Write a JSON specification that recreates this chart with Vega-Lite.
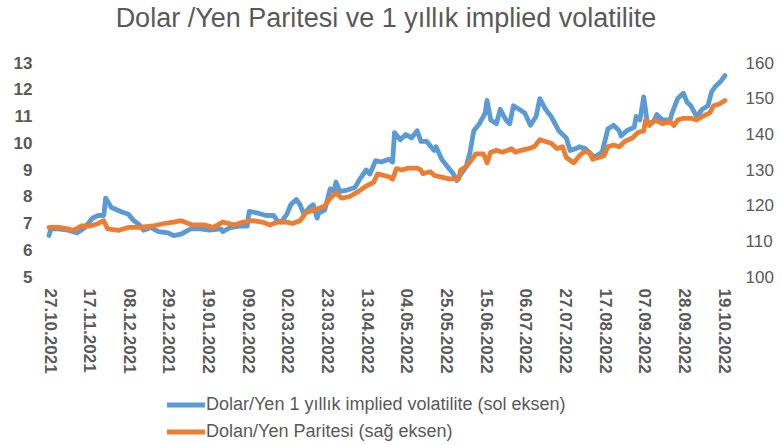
{
  "$schema": "https://vega.github.io/schema/vega-lite/v6.json",
  "width": 674,
  "height": 214,
  "autosize": {"type": "none"},
  "padding": {"left": 49, "top": 63, "right": 58, "bottom": 168},
  "background": "white",
  "title": {"text": "Dolar /Yen Paritesi ve 1 yıllık implied volatilite", "fontSize": 27, "font": "Liberation Sans", "fontWeight": "normal", "color": "#595959", "offset": 21, "anchor": "middle"},
  "config": {
    "view": {"stroke": null},
    "axis": {"grid": false, "domain": false, "ticks": false, "labelFont": "Liberation Sans", "labelColor": "#595959", "labelFontSize": 17, "title": null},
    "axisX": {"labelOverlap": false, "labelFlush": false}
  },
  "datasets": {
    "vol": [
      {"d": "2021-10-27T00:00", "v": 6.55}, {"d": "2021-10-28T00:00", "v": 6.8}, {"d": "2021-11-01T00:00", "v": 6.8},
      {"d": "2021-11-06T00:00", "v": 6.75}, {"d": "2021-11-11T00:00", "v": 6.65}, {"d": "2021-11-15T00:00", "v": 6.85},
      {"d": "2021-11-19T00:00", "v": 7.2}, {"d": "2021-11-22T00:00", "v": 7.3}, {"d": "2021-11-25T00:00", "v": 7.3},
      {"d": "2021-11-26T00:00", "v": 7.95}, {"d": "2021-11-29T00:00", "v": 7.6}, {"d": "2021-12-04T00:00", "v": 7.45},
      {"d": "2021-12-08T00:00", "v": 7.35}, {"d": "2021-12-11T00:00", "v": 7.1}, {"d": "2021-12-14T00:00", "v": 6.95},
      {"d": "2021-12-16T00:00", "v": 6.75}, {"d": "2021-12-20T00:00", "v": 6.85}, {"d": "2021-12-24T00:00", "v": 6.7},
      {"d": "2021-12-29T00:00", "v": 6.65}, {"d": "2022-01-01T00:00", "v": 6.55}, {"d": "2022-01-05T00:00", "v": 6.6},
      {"d": "2022-01-10T00:00", "v": 6.8}, {"d": "2022-01-15T00:00", "v": 6.8}, {"d": "2022-01-20T00:00", "v": 6.75},
      {"d": "2022-01-26T00:00", "v": 6.8}, {"d": "2022-01-27T00:00", "v": 6.7}, {"d": "2022-01-31T00:00", "v": 6.85},
      {"d": "2022-02-05T00:00", "v": 6.9}, {"d": "2022-02-09T00:00", "v": 6.9}, {"d": "2022-02-10T00:00", "v": 7.45},
      {"d": "2022-02-14T00:00", "v": 7.4}, {"d": "2022-02-19T00:00", "v": 7.3}, {"d": "2022-02-23T00:00", "v": 7.3},
      {"d": "2022-02-25T00:00", "v": 7.1}, {"d": "2022-02-27T00:00", "v": 7.05}, {"d": "2022-03-01T00:00", "v": 7.25},
      {"d": "2022-03-02T00:00", "v": 7.35}, {"d": "2022-03-04T00:00", "v": 7.7}, {"d": "2022-03-07T00:00", "v": 7.9},
      {"d": "2022-03-09T00:00", "v": 7.7}, {"d": "2022-03-11T00:00", "v": 7.35}, {"d": "2022-03-14T00:00", "v": 7.6},
      {"d": "2022-03-16T00:00", "v": 7.7}, {"d": "2022-03-18T00:00", "v": 7.2}, {"d": "2022-03-19T00:00", "v": 7.4},
      {"d": "2022-03-22T00:00", "v": 7.5}, {"d": "2022-03-25T00:00", "v": 8.3}, {"d": "2022-03-27T00:00", "v": 8.2},
      {"d": "2022-03-28T00:00", "v": 8.55}, {"d": "2022-03-30T00:00", "v": 8.2}, {"d": "2022-04-03T00:00", "v": 8.25},
      {"d": "2022-04-07T00:00", "v": 8.35}, {"d": "2022-04-10T00:00", "v": 8.7}, {"d": "2022-04-13T00:00", "v": 9.0},
      {"d": "2022-04-15T00:00", "v": 8.85}, {"d": "2022-04-18T00:00", "v": 9.35}, {"d": "2022-04-21T00:00", "v": 9.3},
      {"d": "2022-04-25T00:00", "v": 9.4}, {"d": "2022-04-27T00:00", "v": 9.3}, {"d": "2022-04-28T00:00", "v": 10.4},
      {"d": "2022-05-01T00:00", "v": 10.13}, {"d": "2022-05-04T00:00", "v": 10.33}, {"d": "2022-05-07T00:00", "v": 10.2},
      {"d": "2022-05-10T00:00", "v": 10.47}, {"d": "2022-05-12T00:00", "v": 10.07}, {"d": "2022-05-15T00:00", "v": 10.07},
      {"d": "2022-05-19T00:00", "v": 9.73}, {"d": "2022-05-20T00:00", "v": 9.87}, {"d": "2022-05-23T00:00", "v": 9.4},
      {"d": "2022-05-26T00:00", "v": 9.13}, {"d": "2022-05-29T00:00", "v": 8.87}, {"d": "2022-05-31T00:00", "v": 8.6},
      {"d": "2022-06-01T00:00", "v": 8.73}, {"d": "2022-06-05T00:00", "v": 9.13}, {"d": "2022-06-07T00:00", "v": 9.67},
      {"d": "2022-06-09T00:00", "v": 10.47}, {"d": "2022-06-12T00:00", "v": 10.73}, {"d": "2022-06-15T00:00", "v": 11.13},
      {"d": "2022-06-16T00:00", "v": 11.6}, {"d": "2022-06-18T00:00", "v": 10.87}, {"d": "2022-06-21T00:00", "v": 10.73},
      {"d": "2022-06-23T00:00", "v": 11.27}, {"d": "2022-06-26T00:00", "v": 10.87}, {"d": "2022-06-28T00:00", "v": 10.73},
      {"d": "2022-06-30T00:00", "v": 11.4}, {"d": "2022-07-03T00:00", "v": 11.27}, {"d": "2022-07-06T00:00", "v": 11.13},
      {"d": "2022-07-09T00:00", "v": 10.67}, {"d": "2022-07-12T00:00", "v": 11.0}, {"d": "2022-07-14T00:00", "v": 11.67},
      {"d": "2022-07-17T00:00", "v": 11.27}, {"d": "2022-07-20T00:00", "v": 11.0}, {"d": "2022-07-24T00:00", "v": 10.47},
      {"d": "2022-07-28T00:00", "v": 10.2}, {"d": "2022-07-30T00:00", "v": 9.73}, {"d": "2022-08-02T00:00", "v": 9.8},
      {"d": "2022-08-04T00:00", "v": 9.87}, {"d": "2022-08-07T00:00", "v": 9.8}, {"d": "2022-08-10T00:00", "v": 9.6},
      {"d": "2022-08-12T00:00", "v": 9.47}, {"d": "2022-08-16T00:00", "v": 9.67}, {"d": "2022-08-19T00:00", "v": 10.53},
      {"d": "2022-08-22T00:00", "v": 10.67}, {"d": "2022-08-25T00:00", "v": 10.47}, {"d": "2022-08-26T00:00", "v": 10.27},
      {"d": "2022-08-29T00:00", "v": 10.47}, {"d": "2022-09-02T00:00", "v": 10.6}, {"d": "2022-09-03T00:00", "v": 11.0},
      {"d": "2022-09-05T00:00", "v": 10.87}, {"d": "2022-09-07T00:00", "v": 11.73}, {"d": "2022-09-09T00:00", "v": 10.73},
      {"d": "2022-09-12T00:00", "v": 10.8}, {"d": "2022-09-14T00:00", "v": 11.07}, {"d": "2022-09-17T00:00", "v": 10.87},
      {"d": "2022-09-21T00:00", "v": 10.87}, {"d": "2022-09-22T00:00", "v": 11.13}, {"d": "2022-09-25T00:00", "v": 11.67},
      {"d": "2022-09-28T00:00", "v": 11.87}, {"d": "2022-09-30T00:00", "v": 11.53}, {"d": "2022-10-02T00:00", "v": 11.4},
      {"d": "2022-10-05T00:00", "v": 11.0}, {"d": "2022-10-08T00:00", "v": 11.27}, {"d": "2022-10-11T00:00", "v": 11.4},
      {"d": "2022-10-13T00:00", "v": 11.93}, {"d": "2022-10-15T00:00", "v": 12.13}, {"d": "2022-10-18T00:00", "v": 12.33},
      {"d": "2022-10-20T00:00", "v": 12.53}
    ],
    "fx": [
      {"d": "2021-10-27T00:00", "v": 113.9}, {"d": "2021-11-01T00:00", "v": 113.9}, {"d": "2021-11-06T00:00", "v": 113.5},
      {"d": "2021-11-09T00:00", "v": 113.1}, {"d": "2021-11-13T00:00", "v": 114.3}, {"d": "2021-11-18T00:00", "v": 114.3},
      {"d": "2021-11-22T00:00", "v": 115.0}, {"d": "2021-11-25T00:00", "v": 115.8}, {"d": "2021-11-27T00:00", "v": 113.5},
      {"d": "2021-12-03T00:00", "v": 113.1}, {"d": "2021-12-08T00:00", "v": 113.9}, {"d": "2021-12-14T00:00", "v": 113.9},
      {"d": "2021-12-21T00:00", "v": 114.3}, {"d": "2021-12-27T00:00", "v": 115.0}, {"d": "2022-01-01T00:00", "v": 115.4},
      {"d": "2022-01-05T00:00", "v": 115.8}, {"d": "2022-01-11T00:00", "v": 114.6}, {"d": "2022-01-17T00:00", "v": 114.6},
      {"d": "2022-01-22T00:00", "v": 113.9}, {"d": "2022-01-27T00:00", "v": 115.4}, {"d": "2022-02-02T00:00", "v": 114.6},
      {"d": "2022-02-07T00:00", "v": 115.4}, {"d": "2022-02-12T00:00", "v": 115.8}, {"d": "2022-02-17T00:00", "v": 115.4},
      {"d": "2022-02-21T00:00", "v": 114.6}, {"d": "2022-02-25T00:00", "v": 115.4}, {"d": "2022-03-02T00:00", "v": 115.4},
      {"d": "2022-03-05T00:00", "v": 115.0}, {"d": "2022-03-09T00:00", "v": 115.8}, {"d": "2022-03-12T00:00", "v": 118.0},
      {"d": "2022-03-18T00:00", "v": 119.1}, {"d": "2022-03-22T00:00", "v": 119.9}, {"d": "2022-03-25T00:00", "v": 122.1},
      {"d": "2022-03-28T00:00", "v": 123.6}, {"d": "2022-03-31T00:00", "v": 122.1}, {"d": "2022-04-04T00:00", "v": 122.5},
      {"d": "2022-04-09T00:00", "v": 124.0}, {"d": "2022-04-13T00:00", "v": 125.5}, {"d": "2022-04-17T00:00", "v": 126.6},
      {"d": "2022-04-19T00:00", "v": 128.9}, {"d": "2022-04-25T00:00", "v": 128.1}, {"d": "2022-04-27T00:00", "v": 127.4},
      {"d": "2022-04-29T00:00", "v": 130.4}, {"d": "2022-05-02T00:00", "v": 130.0}, {"d": "2022-05-05T00:00", "v": 130.5},
      {"d": "2022-05-10T00:00", "v": 130.5}, {"d": "2022-05-12T00:00", "v": 130.0}, {"d": "2022-05-13T00:00", "v": 129.0},
      {"d": "2022-05-17T00:00", "v": 129.5}, {"d": "2022-05-19T00:00", "v": 128.5}, {"d": "2022-05-23T00:00", "v": 128.0},
      {"d": "2022-05-27T00:00", "v": 127.5}, {"d": "2022-06-01T00:00", "v": 127.5}, {"d": "2022-06-02T00:00", "v": 130.0},
      {"d": "2022-06-05T00:00", "v": 131.0}, {"d": "2022-06-08T00:00", "v": 133.0}, {"d": "2022-06-10T00:00", "v": 134.5},
      {"d": "2022-06-14T00:00", "v": 134.5}, {"d": "2022-06-15T00:00", "v": 133.5}, {"d": "2022-06-16T00:00", "v": 132.0},
      {"d": "2022-06-18T00:00", "v": 135.0}, {"d": "2022-06-21T00:00", "v": 135.5}, {"d": "2022-06-24T00:00", "v": 135.0},
      {"d": "2022-06-27T00:00", "v": 135.5}, {"d": "2022-06-29T00:00", "v": 136.0}, {"d": "2022-07-01T00:00", "v": 135.0},
      {"d": "2022-07-04T00:00", "v": 135.5}, {"d": "2022-07-08T00:00", "v": 136.0}, {"d": "2022-07-11T00:00", "v": 136.5},
      {"d": "2022-07-14T00:00", "v": 138.5}, {"d": "2022-07-17T00:00", "v": 138.0}, {"d": "2022-07-20T00:00", "v": 137.5},
      {"d": "2022-07-23T00:00", "v": 136.0}, {"d": "2022-07-26T00:00", "v": 136.5}, {"d": "2022-07-28T00:00", "v": 133.5},
      {"d": "2022-08-01T00:00", "v": 132.0}, {"d": "2022-08-04T00:00", "v": 134.0}, {"d": "2022-08-06T00:00", "v": 135.0},
      {"d": "2022-08-09T00:00", "v": 135.0}, {"d": "2022-08-11T00:00", "v": 133.0}, {"d": "2022-08-14T00:00", "v": 133.5},
      {"d": "2022-08-17T00:00", "v": 134.0}, {"d": "2022-08-19T00:00", "v": 136.5}, {"d": "2022-08-22T00:00", "v": 137.0},
      {"d": "2022-08-25T00:00", "v": 136.5}, {"d": "2022-08-28T00:00", "v": 138.0}, {"d": "2022-09-01T00:00", "v": 139.0},
      {"d": "2022-09-04T00:00", "v": 140.5}, {"d": "2022-09-07T00:00", "v": 141.0}, {"d": "2022-09-08T00:00", "v": 144.0},
      {"d": "2022-09-10T00:00", "v": 142.5}, {"d": "2022-09-13T00:00", "v": 144.0}, {"d": "2022-09-17T00:00", "v": 143.0},
      {"d": "2022-09-21T00:00", "v": 143.5}, {"d": "2022-09-23T00:00", "v": 142.5}, {"d": "2022-09-25T00:00", "v": 144.0},
      {"d": "2022-09-28T00:00", "v": 144.5}, {"d": "2022-10-02T00:00", "v": 144.5}, {"d": "2022-10-05T00:00", "v": 144.0},
      {"d": "2022-10-08T00:00", "v": 145.0}, {"d": "2022-10-12T00:00", "v": 146.0}, {"d": "2022-10-14T00:00", "v": 148.0},
      {"d": "2022-10-17T00:00", "v": 148.5}, {"d": "2022-10-20T00:00", "v": 149.5}
    ]
  },
  "encoding": {
    "x": {
      "field": "d", "type": "temporal",
      "scale": {"domain": [{"year": 2021, "month": 10, "date": 27}, {"year": 2022, "month": 10, "date": 19}]},
      "axis": {
        "values": [
          {"year": 2021, "month": 10, "date": 27}, {"year": 2021, "month": 11, "date": 17}, {"year": 2021, "month": 12, "date": 8},
          {"year": 2021, "month": 12, "date": 29}, {"year": 2022, "month": 1, "date": 19}, {"year": 2022, "month": 2, "date": 9},
          {"year": 2022, "month": 3, "date": 2}, {"year": 2022, "month": 3, "date": 23}, {"year": 2022, "month": 4, "date": 13},
          {"year": 2022, "month": 5, "date": 4}, {"year": 2022, "month": 5, "date": 25}, {"year": 2022, "month": 6, "date": 15},
          {"year": 2022, "month": 7, "date": 6}, {"year": 2022, "month": 7, "date": 27}, {"year": 2022, "month": 8, "date": 17},
          {"year": 2022, "month": 9, "date": 7}, {"year": 2022, "month": 9, "date": 28}, {"year": 2022, "month": 10, "date": 19}
        ],
        "format": "%d.%m.%Y", "labelAngle": 90, "labelFontWeight": "bold", "labelPadding": 11,
        "labelFlush": false, "labelOverlap": false, "labelSeparation": 0, "title": null
      }
    }
  },
  "layer": [
    {
      "data": {"name": "vol"},
      "mark": {"type": "line", "strokeWidth": 4.8, "strokeJoin": "round", "strokeCap": "round"},
      "encoding": {
        "y": {
          "field": "v", "type": "quantitative",
          "scale": {"domain": [5, 13], "nice": false, "zero": false},
          "axis": {"values": [5, 6, 7, 8, 9, 10, 11, 12, 13], "labelFontWeight": "bold", "labelPadding": 17, "title": null}
        },
        "color": {
          "datum": "Dolar/Yen 1 yıllık implied volatilite  (sol eksen)",
          "scale": {"domain": ["Dolar/Yen 1 yıllık implied volatilite  (sol eksen)", "Dolan/Yen Paritesi (sağ eksen)"], "range": ["#5B9BD5", "#ED7D31"]},
          "legend": {
            "orient": "none", "legendX": 125, "legendY": 330, "title": null, "direction": "vertical", "padding": 0,
            "symbolType": "M-2,0H2", "symbolSize": 361, "symbolStrokeWidth": 5, "labelLimit": 0,
            "labelFontSize": 18, "labelFont": "Liberation Sans", "labelColor": "#595959", "rowPadding": 5, "labelOffset": 8
          }
        }
      }
    },
    {
      "data": {"name": "fx"},
      "mark": {"type": "line", "strokeWidth": 4.8, "strokeJoin": "round", "strokeCap": "round"},
      "encoding": {
        "y": {
          "field": "v", "type": "quantitative",
          "scale": {"domain": [100, 160], "nice": false, "zero": false},
          "axis": {"orient": "right", "values": [100, 110, 120, 130, 140, 150, 160], "labelFontWeight": "normal", "labelPadding": 22, "title": null}
        },
        "color": {"datum": "Dolan/Yen Paritesi (sağ eksen)"}
      }
    }
  ],
  "resolve": {"scale": {"y": "independent"}}
}
